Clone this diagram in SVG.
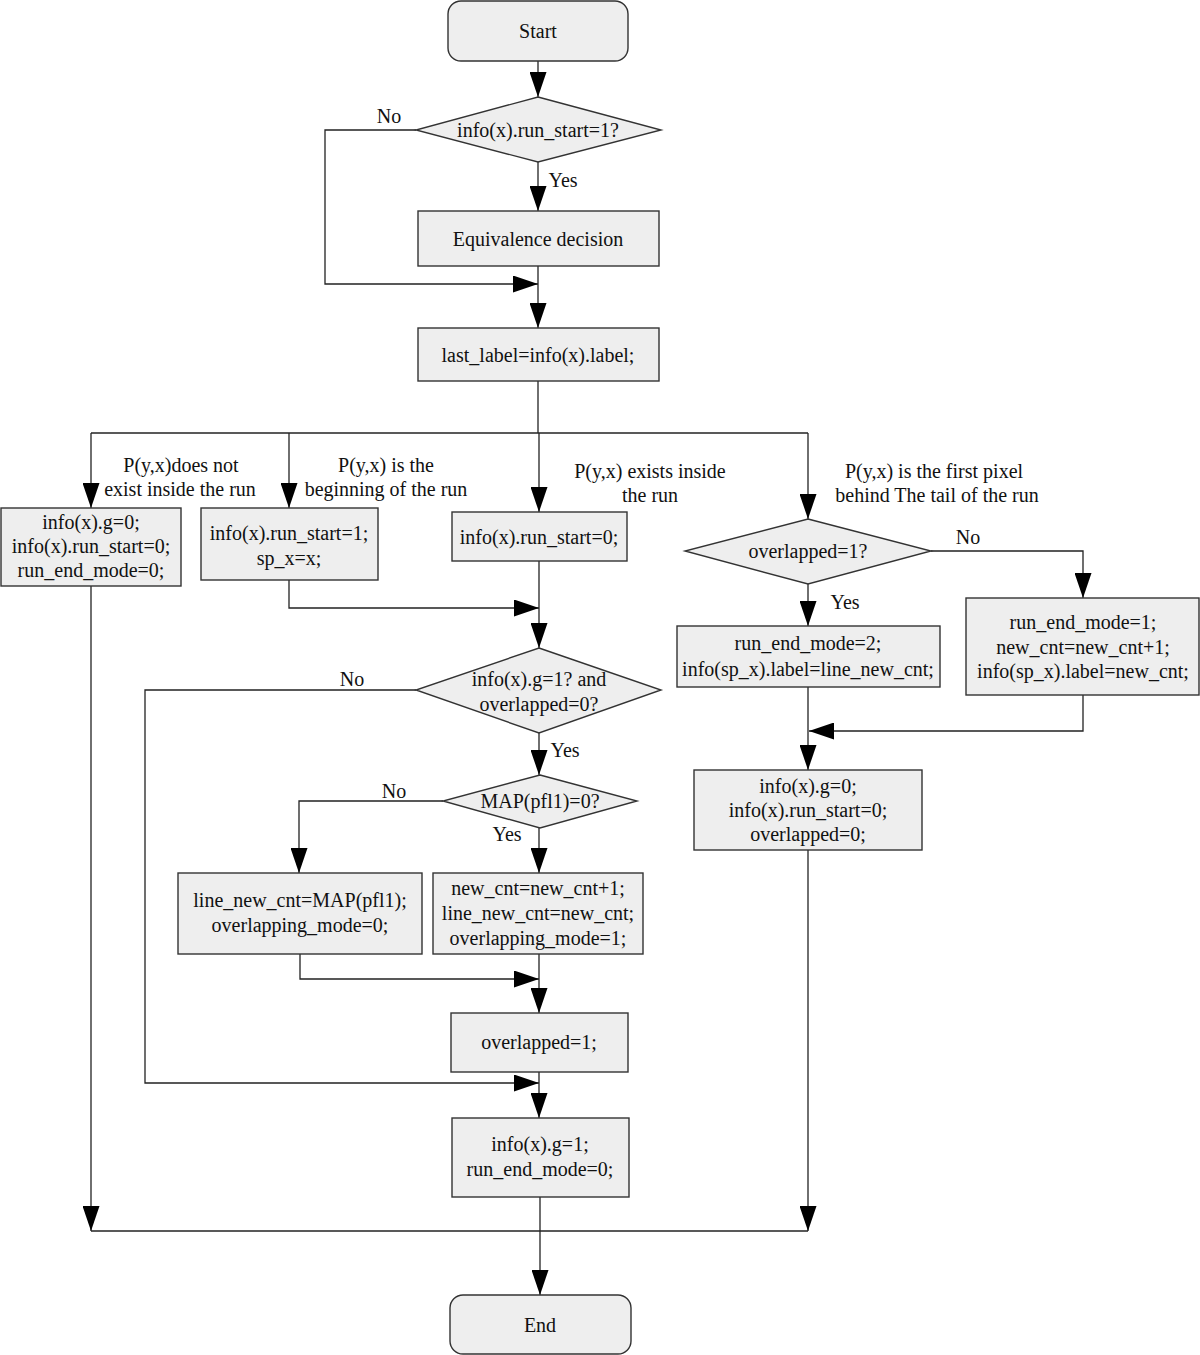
<svg xmlns="http://www.w3.org/2000/svg" width="1200" height="1355" viewBox="0 0 1200 1355">
<defs>
<style>
.n{fill:#eeeeee;stroke:#333333;stroke-width:1.4}
.t{font-family:"Liberation Serif","Times New Roman",serif;font-size:20px;fill:#111111;text-anchor:middle;dominant-baseline:central}
.c{fill:none;stroke:#222222;stroke-width:1.3}
</style>
<marker id="ah" markerUnits="userSpaceOnUse" markerWidth="25" markerHeight="17" refX="25" refY="8.5" orient="auto">
<path d="M0,0 L25,8.5 L0,17 z" fill="#000000"/>
</marker>
</defs>
<rect width="1200" height="1355" fill="#ffffff"/>
<g id="connectors">
<path class="c" d="M538,61 V97" marker-end="url(#ah)"/>
<path class="c" d="M538,162 V211" marker-end="url(#ah)"/>
<path class="c" d="M416,130 H325 V284 H538" marker-end="url(#ah)"/>
<path class="c" d="M538,266 V328" marker-end="url(#ah)"/>
<path class="c" d="M538,381 V433"/>
<path class="c" d="M91,433 H808"/>
<path class="c" d="M91,433 V508" marker-end="url(#ah)"/>
<path class="c" d="M289,433 V508" marker-end="url(#ah)"/>
<path class="c" d="M539,433 V512" marker-end="url(#ah)"/>
<path class="c" d="M808,433 V519" marker-end="url(#ah)"/>
<path class="c" d="M289,580 V608 H539" marker-end="url(#ah)"/>
<path class="c" d="M539,561 V648" marker-end="url(#ah)"/>
<path class="c" d="M539,733 V775" marker-end="url(#ah)"/>
<path class="c" d="M443,801 H299 V873" marker-end="url(#ah)"/>
<path class="c" d="M539,828 V873" marker-end="url(#ah)"/>
<path class="c" d="M300,954 V979 H539" marker-end="url(#ah)"/>
<path class="c" d="M539,954 V1013" marker-end="url(#ah)"/>
<path class="c" d="M416,690 H145 V1083 H539" marker-end="url(#ah)"/>
<path class="c" d="M539,1072 V1118" marker-end="url(#ah)"/>
<path class="c" d="M540,1197 V1295" marker-end="url(#ah)"/>
<path class="c" d="M931,551 H1083 V598" marker-end="url(#ah)"/>
<path class="c" d="M808,584 V626" marker-end="url(#ah)"/>
<path class="c" d="M1083,695 V731 H809" marker-end="url(#ah)"/>
<path class="c" d="M808,687 V770" marker-end="url(#ah)"/>
<path class="c" d="M808,850 V1231" marker-end="url(#ah)"/>
<path class="c" d="M91,586 V1231" marker-end="url(#ah)"/>
<path class="c" d="M91,1231 H808"/>
<text class="t" x="389" y="116">No</text>
<text class="t" x="563" y="180">Yes</text>
<text class="t" x="181" y="465">P(y,x)does not</text>
<text class="t" x="180" y="489">exist inside the run</text>
<text class="t" x="386" y="465">P(y,x) is the</text>
<text class="t" x="386" y="489">beginning of the run</text>
<text class="t" x="650" y="471">P(y,x) exists inside</text>
<text class="t" x="650" y="495">the run</text>
<text class="t" x="934" y="471">P(y,x) is the first pixel</text>
<text class="t" x="937" y="495">behind The tail of the run</text>
<text class="t" x="968" y="537">No</text>
<text class="t" x="845" y="602">Yes</text>
<text class="t" x="352" y="679">No</text>
<text class="t" x="565" y="750">Yes</text>
<text class="t" x="394" y="791">No</text>
<text class="t" x="507" y="834">Yes</text>
</g>
<g id="start">
<rect class="n" x="448" y="1" width="180" height="60" rx="13"/>
<text class="t" x="538" y="31">Start</text>
</g>
<g id="d_runstart">
<polygon class="n" points="538,97 661,130 538,162 416,130"/>
<text class="t" x="538" y="130">info(x).run_start=1?</text>
</g>
<g id="equiv">
<rect class="n" x="418" y="211" width="241" height="55"/>
<text class="t" x="538" y="239">Equivalence decision</text>
</g>
<g id="lastlabel">
<rect class="n" x="418" y="328" width="241" height="53"/>
<text class="t" x="538" y="355">last_label=info(x).label;</text>
</g>
<g id="b_notexist">
<rect class="n" x="1" y="508" width="180" height="78"/>
<text class="t" x="91" y="522">info(x).g=0;</text>
<text class="t" x="91" y="546">info(x).run_start=0;</text>
<text class="t" x="91" y="570">run_end_mode=0;</text>
</g>
<g id="b_begin">
<rect class="n" x="201" y="508" width="177" height="72"/>
<text class="t" x="289" y="533">info(x).run_start=1;</text>
<text class="t" x="289" y="558">sp_x=x;</text>
</g>
<g id="b_inside">
<rect class="n" x="452" y="512" width="175" height="49"/>
<text class="t" x="539" y="537">info(x).run_start=0;</text>
</g>
<g id="d_overlapped">
<polygon class="n" points="808,519 931,551 808,584 685,551"/>
<text class="t" x="808" y="551">overlapped=1?</text>
</g>
<g id="b_mode2">
<rect class="n" x="677" y="626" width="263" height="61"/>
<text class="t" x="808" y="643">run_end_mode=2;</text>
<text class="t" x="808" y="669">info(sp_x).label=line_new_cnt;</text>
</g>
<g id="b_mode1">
<rect class="n" x="966" y="598" width="233" height="97"/>
<text class="t" x="1083" y="622">run_end_mode=1;</text>
<text class="t" x="1083" y="647">new_cnt=new_cnt+1;</text>
<text class="t" x="1083" y="671">info(sp_x).label=new_cnt;</text>
</g>
<g id="b_reset">
<rect class="n" x="694" y="770" width="228" height="80"/>
<text class="t" x="808" y="786">info(x).g=0;</text>
<text class="t" x="808" y="810">info(x).run_start=0;</text>
<text class="t" x="808" y="834">overlapped=0;</text>
</g>
<g id="d_g1">
<polygon class="n" points="539,648 661,690 539,733 416,690"/>
<text class="t" x="539" y="679">info(x).g=1? and</text>
<text class="t" x="539" y="704">overlapped=0?</text>
</g>
<g id="d_map">
<polygon class="n" points="540,775 637,801 540,828 443,801"/>
<text class="t" x="540" y="801">MAP(pfl1)=0?</text>
</g>
<g id="b_map">
<rect class="n" x="178" y="873" width="244" height="81"/>
<text class="t" x="300" y="900">line_new_cnt=MAP(pfl1);</text>
<text class="t" x="300" y="925">overlapping_mode=0;</text>
</g>
<g id="b_new">
<rect class="n" x="433" y="873" width="210" height="81"/>
<text class="t" x="538" y="888">new_cnt=new_cnt+1;</text>
<text class="t" x="538" y="913">line_new_cnt=new_cnt;</text>
<text class="t" x="538" y="938">overlapping_mode=1;</text>
</g>
<g id="b_ov1">
<rect class="n" x="451" y="1013" width="177" height="59"/>
<text class="t" x="539" y="1042">overlapped=1;</text>
</g>
<g id="b_g1">
<rect class="n" x="452" y="1118" width="177" height="79"/>
<text class="t" x="540" y="1144">info(x).g=1;</text>
<text class="t" x="540" y="1169">run_end_mode=0;</text>
</g>
<g id="end">
<rect class="n" x="450" y="1295" width="181" height="59" rx="13"/>
<text class="t" x="540" y="1325">End</text>
</g>
</svg>
